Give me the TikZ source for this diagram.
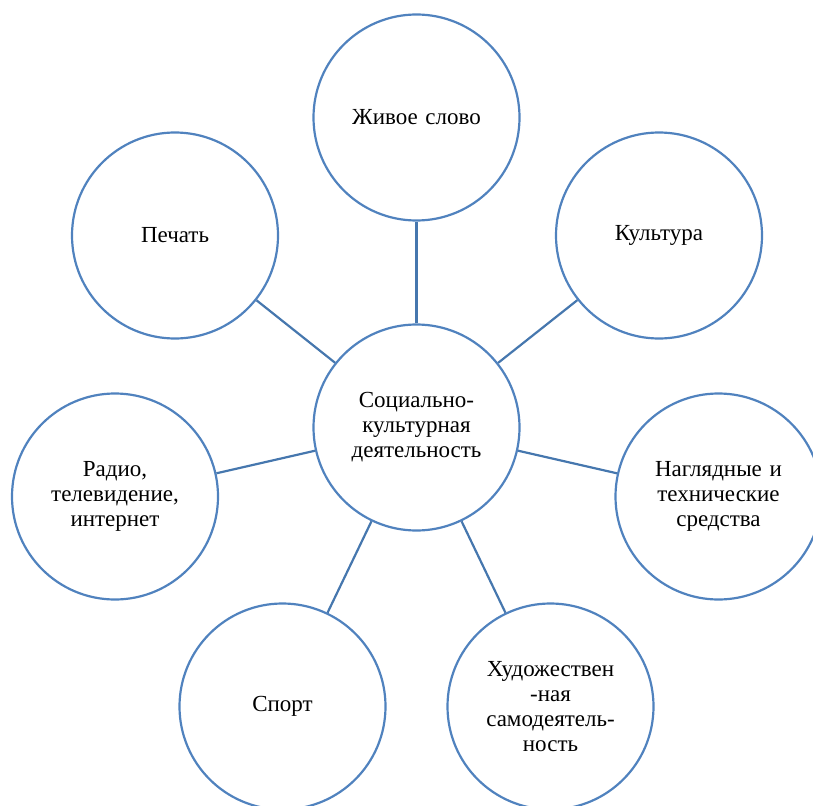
\documentclass[tikz,border=0pt]{standalone}
\usepackage{fontspec}
\setmainfont{LiberationSerif-Regular.ttf}
\definecolor{circ}{HTML}{5082BE}
\definecolor{conn}{HTML}{4677AE}
\begin{document}
\begin{tikzpicture}[x=1pt,y=-1pt,
  bub/.style={circle,draw=circ,line width=2.2pt,minimum size=206pt,inner sep=0pt,
    align=center,font=\fontsize{23}{25}\selectfont,text width=160pt},
  link/.style={draw=conn,line width=2.2pt}]
\useasboundingbox (0,0) rectangle (813,805);
\node[bub] (c) at (416.5,427.5) {Социально-\\культурная\\деятельность};
\node[bub] (top) at (416.5,117.5) {Живое слово};
\node[bub] (pe) at (175,235.5) {Печать};
\node[bub] (ku) at (659,235.5) {Культура};
\node[bub] (ra) at (115,496.5) {Радио,\\телевидение,\\интернет};
\node[bub] (na) at (718.5,496.5) {Наглядные и\\технические\\средства};
\node[bub] (sp) at (282.5,706.5) {Спорт};
\node[bub] (hu) at (550.5,706.5) {Художествен\\-ная\\самодеятель-\\ность};
\foreach \n in {top,pe,ku,ra,na,sp,hu} \draw[link] (c) -- (\n);
\end{tikzpicture}
\end{document}
